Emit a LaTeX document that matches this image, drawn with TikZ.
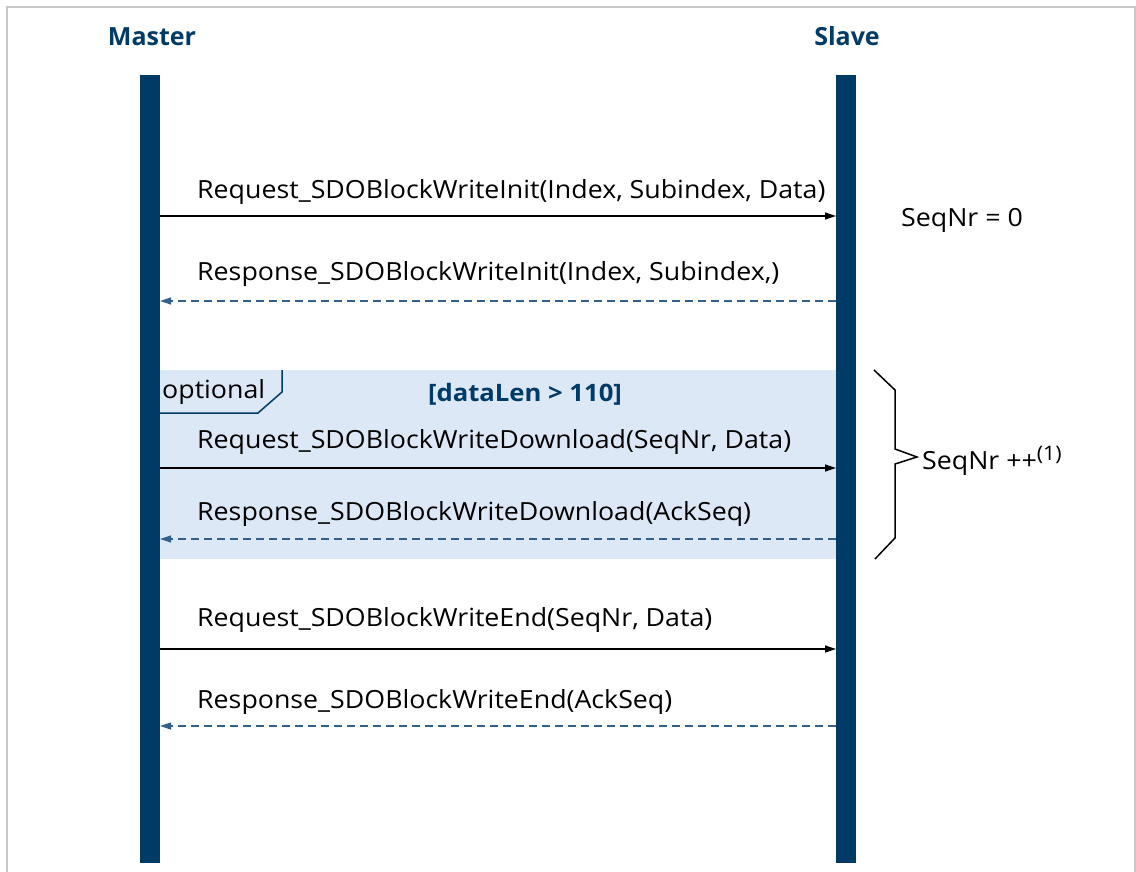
\documentclass[tikz,border=0pt]{standalone}
\usepackage{fontspec}
\setmainfont{Open Sans}
\newfontfamily\msgfont[FakeStretch=1.07]{Open Sans}
\usetikzlibrary{arrows.meta}
\definecolor{navy}{HTML}{003B68}
\definecolor{dashblue}{HTML}{33608A}
\definecolor{optfill}{HTML}{DCE8F5}
\definecolor{framegray}{HTML}{C8C8C8}
\tikzset{
  lifeline/.style={fill=navy, draw=none, minimum width=20pt, minimum height=788pt, inner sep=0pt},
  actor/.style={text=navy, font=\fontsize{25}{30}\selectfont\bfseries, inner sep=0pt, anchor=base},
  msg/.style={font=\msgfont\fontsize{25}{30}\selectfont, inner sep=0pt, anchor=base west},
  req/.style={draw=black, line width=1.2pt, -{Triangle[length=11pt,width=7pt]}},
  resp/.style={draw=dashblue, line width=1.2pt, dash pattern=on 8pt off 5pt, -{Triangle[length=11pt,width=7pt]}},
  guard/.style={text=navy, font=\msgfont\fontsize{24}{29}\selectfont\bfseries, inner sep=0pt, anchor=base},
}
\begin{document}
\begin{tikzpicture}[x=1pt,y=-1pt]
\useasboundingbox (0,0) rectangle (1136,872);
% outer frame (open at the bottom)
\draw[framegray, line width=2pt] (7,872) -- (7,7) -- (1135,7) -- (1135,872);

% optional fragment background
\fill[optfill] (160,370) rectangle (836,559);

% lifelines
\node[lifeline] (master) at (150,469) {};
\node[lifeline] (slave) at (846,469) {};
\node[actor] (mastertitle) at (152,46) {Master};
\node[actor] (slavetitle) at (847,46) {Slave};

% optional fragment label
\draw[navy, line width=1.5pt] (160,413) -- (258,413) -- (282,392) -- (282,370);
\node[msg] (optlabel) at (162,398) {optional};
\node[guard] (guardtxt) at (525,401) {[dataLen > 110]};

% message end points
\foreach \n/\y in {1/216, 2/301, 3/468, 4/539, 5/649, 6/726} {
  \coordinate (m\n) at (160,\y);
  \coordinate (s\n) at (836,\y);
}

% messages
\draw[req]  (m1) -- (s1);
\draw[resp] (s2) -- (m2);
\draw[req]  (m3) -- (s3);
\draw[resp] (s4) -- (m4);
\draw[req]  (m5) -- (s5);
\draw[resp] (s6) -- (m6);

\node[msg] (t1) at (197,199) {Request\_SDOBlockWriteInit(Index, Subindex, Data)};
\node[msg] (t2) at (197,280) {Response\_SDOBlockWriteInit(Index, Subindex,)};
\node[msg] (t3) at (197,448) {Request\_SDOBlockWriteDownload(SeqNr, Data)};
\node[msg] (t4) at (197,520) {Response\_SDOBlockWriteDownload(AckSeq)};
\node[msg] (t5) at (197,626) {Request\_SDOBlockWriteEnd(SeqNr, Data)};
\node[msg] (t6) at (197,708) {Response\_SDOBlockWriteEnd(AckSeq)};

% slave side notes
\node[msg] (seqinit) at (901,226) {SeqNr = 0};
\draw[black, line width=1.5pt, line join=miter]
  (874,370) -- (895,390) -- (895,449) -- (917,457) -- (895,464) -- (895,538) -- (875,559);
\node[msg] (seqinc) at (922,469) {SeqNr ++\raisebox{9pt}{\msgfont\fontsize{20}{23}\selectfont(1)}};
\end{tikzpicture}
\end{document}
